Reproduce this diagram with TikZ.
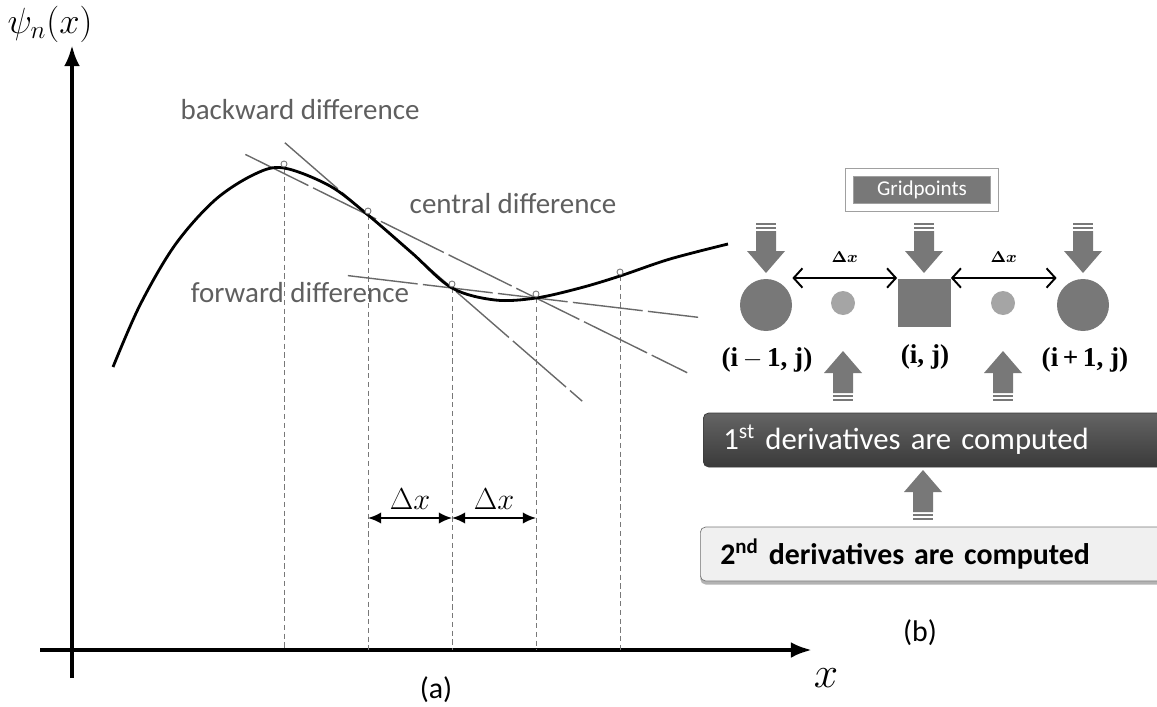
\documentclass[tikz,border=0pt]{standalone}
\usepackage{fontspec}
\usepackage{amsmath}
\usepackage{tikz}
\usetikzlibrary{positioning,calc,arrows.meta,shadows}
\newfontfamily\calibri{Carlito}
\newfontfamily\timesfont{Liberation Serif}
\definecolor{LineGray}{RGB}{105,105,105}
\definecolor{GuideGray}{RGB}{120,120,120}
\definecolor{LabelGray}{RGB}{95,95,95}
\definecolor{BlockGray}{RGB}{120,120,120}
\definecolor{DotGray}{RGB}{165,165,165}
\definecolor{DarkTop}{RGB}{100,100,100}
\definecolor{DarkBot}{RGB}{58,58,58}
\definecolor{LightBox}{RGB}{240,240,240}

\begin{document}
\begin{tikzpicture}[%
      x=0.02cm, y=0.02cm,
      axis/.style={line width=2.3pt, -{Latex[length=12pt,width=9pt]}},
      curve/.style={line width=1.6pt, black},
      secant/.style={line width=0.8pt, LineGray, dash pattern=on 40pt off 3pt},
      guide/.style={line width=0.5pt, GuideGray, dash pattern=on 3pt off 2pt},
      gpt/.style={circle, draw=GuideGray, fill=white, line width=0.5pt, minimum size=0.12cm, inner sep=0pt},
      diffl/.style={font=\calibri\fontsize{16.5}{20}\selectfont, text=LabelGray},
      dxarrow/.style={{Latex[length=7.5pt,width=6.5pt]}-{Latex[length=7.5pt,width=6.5pt]}, line width=1.1pt},
      bigdot/.style={circle, fill=BlockGray, minimum size=1.04cm, inner sep=0pt},
      smalldot/.style={circle, fill=DotGray, minimum size=0.48cm, inner sep=0pt},
      gridsq/.style={rectangle, fill=BlockGray, minimum width=1.06cm, minimum height=0.96cm, inner sep=0pt},
      spacing/.style={{Straight Barb[length=5pt,width=11pt]}-{Straight Barb[length=5pt,width=11pt]}, line width=1.1pt},
      ijlabel/.style={font=\timesfont\bfseries\fontsize{15.5}{18}\selectfont},
      derivbox/.style={rectangle, rounded corners=3pt, anchor=west, text width=8.8cm, align=left, inner xsep=0.4cm, minimum height=1.08cm},
      blockarrow/.pic={
        \fill[BlockGray] (0,0) -- (19,22) -- (10,22) -- (10,42) -- (-10,42) -- (-10,22) -- (-19,22) -- cycle;
        \fill[BlockGray] (-10,44) rectangle (10,46);
        \fill[BlockGray] (-10,48) rectangle (10,50);
      }
    ]
      \useasboundingbox (0,0) rectangle (1157,-707);

      % (a) axes
      \coordinate (O) at (72,-650);
      \draw[axis] (40,-650) -- (812,-650);
      \draw[axis] (72,-678) -- (72,-45);
      \node (psi) at (50,-24) {\fontsize{21}{24}\selectfont $\psi_n(x)$};
      \node (xlab) at (826,-678) {\fontsize{24}{28}\selectfont $x$};
      \node[font=\calibri\fontsize{17}{20}\selectfont] (alab) at (436,-690) {(a)};

      % Gridpoints on the curve
      \coordinate (p1) at (284,-168);
      \coordinate (p2) at (368,-215);
      \coordinate (p3) at (452,-288);
      \coordinate (p4) at (536,-298);
      \coordinate (p5) at (620,-276);
      \foreach \p in {p1,p2,p3,p4,p5}
        \draw[guide] (\p) -- (\p |- O);

      % Difference lines
      \draw[secant] ($(p2)!-0.73!(p4)$) -- ($(p2)!1.9!(p4)$);
      \draw[secant] ($(p2)!-0.99!(p3)$) -- ($(p2)!2.55!(p3)$);
      \draw[secant] ($(p3)!-1.24!(p4)$) -- ($(p3)!2.93!(p4)$);

      % Function
      \draw[curve] plot[smooth, tension=0.55] coordinates {(113,-367) (140,-305) (175,-245) (215,-200) (255,-174) (284,-168) (330,-186) (368,-215) (412,-253) (452,-288) (495,-300) (536,-298) (580,-288) (620,-276) (670,-259) (728,-244)};
      \foreach \p in {p1,p2,p3,p4,p5}
        \node[gpt] at ($(\p)+(0,4)$) {};

      \node[diffl] (back) at (300,-110) {backward difference};
      \node[diffl] (cent) at (513,-204) {central difference};
      \node[diffl] (forw) at (300,-293) {forward difference};

      % Spacing
      \coordinate (d2) at (p2 |- 0,-518);
      \coordinate (d3) at (p3 |- 0,-518);
      \coordinate (d4) at (p4 |- 0,-518);
      \draw[dxarrow] (d2) -- node[above=1pt, font=\fontsize{16}{18}\selectfont] {$\Delta x$} (d3);
      \draw[dxarrow] (d3) -- node[above=1pt, font=\fontsize{16}{18}\selectfont] {$\Delta x$} (d4);

      % (b) grid
      \node[rectangle, fill=BlockGray, draw=GuideGray!70, double=white, double distance=4pt, line width=0.5pt, minimum width=2.9cm, minimum height=0.7cm, drop shadow={shadow xshift=0pt, shadow yshift=-2pt, opacity=0.5}, text=white, font=\calibri\fontsize{12}{14}\selectfont] (grid) at (922,-190) {Gridpoints};
      \node[bigdot] (left) at (766,-305) {};
      \node[smalldot] (ldot) at (843,-303) {};
      \node[gridsq] (mid) at (924,-303) {};
      \node[smalldot] (rdot) at (1003,-303) {};
      \node[bigdot] (right) at (1083,-305) {};

      \pic at (766,-273) {blockarrow};
      \pic at (924,-273) {blockarrow};
      \pic at (1083,-273) {blockarrow};

      \draw[spacing] ($(left.east)+(0,27)$) -- node[above=5pt, font=\timesfont\bfseries\fontsize{9}{10}\selectfont] {$\boldsymbol{\Delta x}$} ($(mid.west)+(0,25)$);
      \draw[spacing] ($(mid.east)+(0,25)$) -- node[above=5pt, font=\timesfont\bfseries\fontsize{9}{10}\selectfont] {$\boldsymbol{\Delta x}$} ($(right.west)+(0,27)$);

      \node[ijlabel] (lij) at (767,-360) {(i\,$-$\,1, j)};
      \node[ijlabel] (mij) at (925,-357) {(i, j)};
      \node[ijlabel] (rij) at (1085,-360) {(i\,+\,1, j)};

      % Derivatives
      \node[derivbox, draw=DarkBot, top color=DarkTop, bottom color=DarkBot, text=white, font=\calibri\fontsize{17.5}{21}\selectfont] (first) at (703,-440) {1\textsuperscript{st} derivatives are computed};
      \node[derivbox, draw=GuideGray, fill=LightBox, drop shadow={shadow xshift=0pt, shadow yshift=-2pt, opacity=0.6}, font=\calibri\bfseries\fontsize{17}{21}\selectfont] (second) at (700,-554) {2\textsuperscript{nd} derivatives are computed};

      \pic[rotate=180] at (843,-351) {blockarrow};
      \pic[rotate=180] at (1003,-351) {blockarrow};
      \pic[rotate=180] at (923,-470) {blockarrow};

      \node[font=\calibri\fontsize{17}{20}\selectfont] (blab) at (920,-633) {(b)};
    \end{tikzpicture}
\end{document}
